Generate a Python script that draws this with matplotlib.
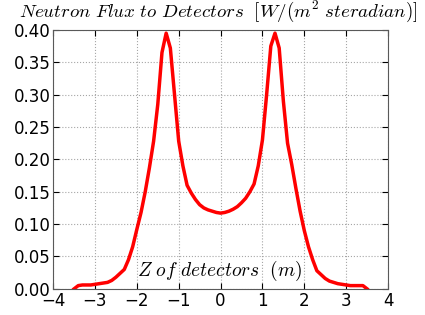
import matplotlib
matplotlib.use('Agg')
import matplotlib.pyplot as plt

z = [-3.5, -3.4, -3.3, -3.2, -3.1, -3.0, -2.9, -2.8, -2.7, -2.6, -2.5, -2.4, -2.3, -2.2, -2.1,
     -2.0, -1.9, -1.8, -1.7, -1.6, -1.5, -1.4, -1.3, -1.2, -1.1, -1.0, -0.9, -0.8, -0.7, -0.6,
     -0.5, -0.4, -0.3, -0.2, -0.1, 0.0, 0.1, 0.2, 0.3, 0.4, 0.5, 0.6, 0.7, 0.8, 0.9, 1.0, 1.1,
     1.2, 1.3, 1.4, 1.5, 1.6, 1.7, 1.8, 1.9, 2.0, 2.1, 2.2, 2.3, 2.4, 2.5, 2.6, 2.7, 2.8, 2.9,
     3.0, 3.1, 3.2, 3.3, 3.4, 3.5]
flux = [0.000, 0.005, 0.006, 0.006, 0.006, 0.007, 0.008, 0.009, 0.010, 0.013, 0.018, 0.024,
        0.030, 0.045, 0.065, 0.092, 0.118, 0.150, 0.187, 0.228, 0.285, 0.365, 0.395, 0.372,
        0.300, 0.228, 0.190, 0.160, 0.148, 0.138, 0.130, 0.125, 0.122, 0.120, 0.118, 0.117,
        0.118, 0.120, 0.123, 0.127, 0.133, 0.140, 0.150, 0.162, 0.190, 0.230, 0.300, 0.375,
        0.395, 0.372, 0.290, 0.225, 0.192, 0.155, 0.120, 0.090, 0.065, 0.045, 0.028, 0.022,
        0.016, 0.012, 0.010, 0.008, 0.007, 0.006, 0.005, 0.005, 0.005, 0.005, 0.000]

plt.rcParams['mathtext.fontset'] = 'cm'

fig = plt.figure(figsize=(4.25, 3.15), dpi=100)
ax = fig.add_axes([0.125, 0.083, 0.788, 0.822])
ax.plot(z, flux, color='red', linewidth=2.5)
ax.set_xlim(-4, 4)
ax.set_ylim(0, 0.40)
ax.set_xticks(range(-4, 5))
ax.set_yticks([i * 0.05 for i in range(9)])
ax.set_yticklabels(['%.2f' % (i * 0.05) for i in range(9)])
ax.tick_params(direction='in', top=True, right=True, labelsize=12, length=4, pad=2)
ax.grid(True, linestyle=':', color='0.65', linewidth=0.8)
for s in ax.spines.values():
    s.set_color('0.35')

ax.text(-2.0, 0.02, r'$Z\ of\ detectors\ \ (m)$', fontsize=14)
fig.text(0.045, 0.945, r'$Neutron\ Flux\ to\ Detectors\ \ [W/(m^2\ steradian)]$', fontsize=13.6)

fig.savefig('out.png', dpi=100)
